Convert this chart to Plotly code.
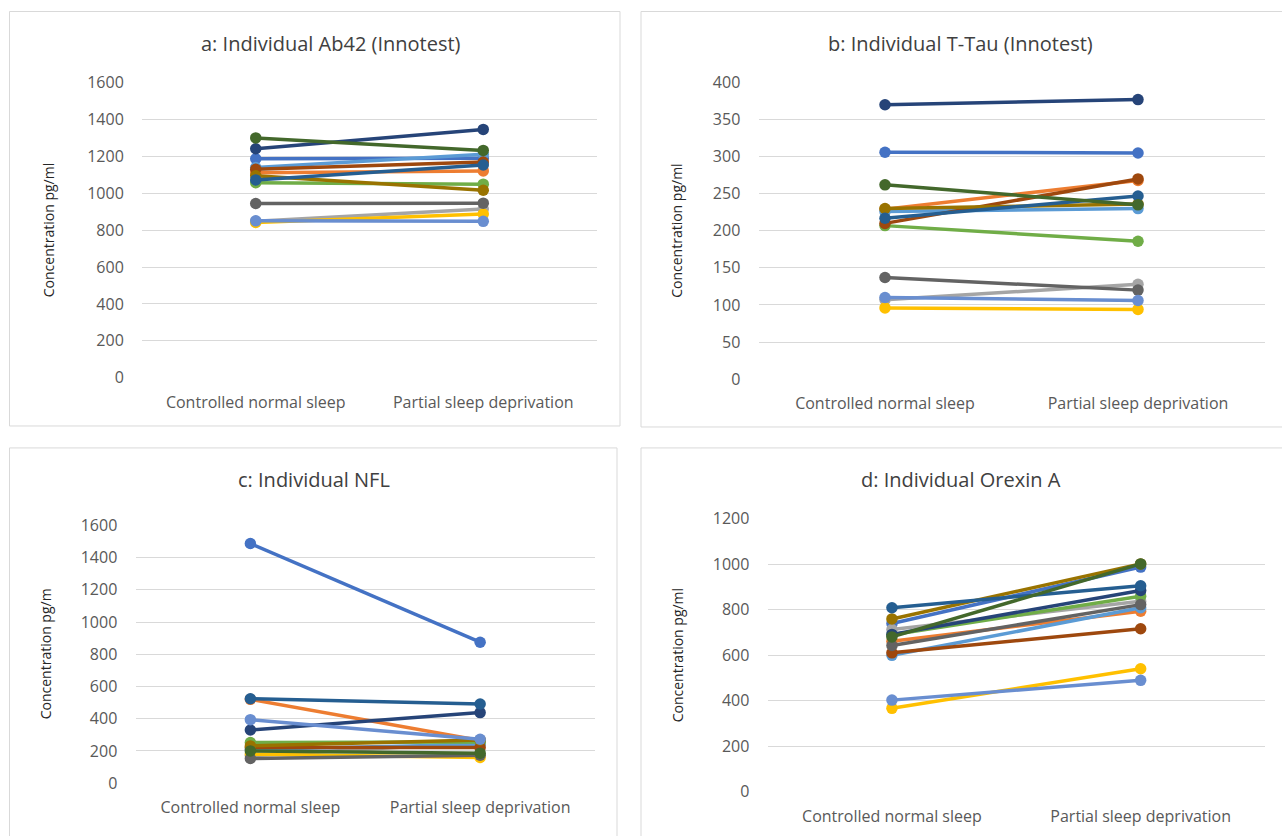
import plotly.graph_objects as go

W, H = 1282, 836
# the photographed page shows the figure in rows 10..826; map reference rows onto that band
TOP, BAND = 10.0, 816.0

conditions = ["Controlled normal sleep", "Partial sleep deprivation"]

series_colors = ["#4472C4", "#ED7D31", "#A5A5A5", "#FFC000", "#5B9BD5", "#70AD47",
                 "#264478", "#9E480E", "#636363", "#997300", "#255E91", "#43682B", "#698ED0"]

# Panel a: Ab42 (Innotest), pg/ml
ab42_normal = [1188, 1112, 848, 842, 1140, 1058, 1242, 1131, 945, 1095, 1073, 1301, 851]
ab42_psd    = [1190, 1122, 915, 888, 1212, 1050, 1347, 1170, 947, 1017, 1154, 1233, 848]

# Panel b: T-Tau (Innotest), pg/ml
ttau_normal = [306, 229, 107, 96, 226, 207, 370, 210, 137, 230, 217, 262, 110]
ttau_psd    = [305, 268, 128, 94, 230, 186, 377, 270, 120, 236, 247, 235, 106]

# Panel c: NFL
nfl_normal = [1488, 520, 170, 180, 210, 252, 330, 221, 153, 231, 524, 200, 394]
nfl_psd    = [875, 265, 250, 159, 240, 256, 438, 221, 173, 268, 491, 186, 272]

# Panel d: Orexin A, pg/ml
orexin_normal = [740, 662, 713, 367, 600, 690, 692, 611, 643, 760, 809, 681, 403]
orexin_psd    = [988, 794, 838, 541, 809, 860, 885, 717, 823, 1002, 906, 1002, 490]

panels = [
    dict(title="a: Individual Ab42 (Innotest)", ytitle="Concentration pg/ml",
         normal=ab42_normal, psd=ab42_psd, yr=[0, 1600], dt=200,
         px=(142, 597), py=(82, 377.5), title_xy=(331, 43), ytitle_x=48,
         box=(9.5, 10.5, 620, 426)),
    dict(title="b: Individual T-Tau (Innotest)", ytitle="Concentration pg/ml",
         normal=ttau_normal, psd=ttau_psd, yr=[0, 400], dt=50,
         px=(758.5, 1264.5), py=(81.7, 379), title_xy=(960, 43), ytitle_x=677,
         box=(641, 10.5, 1295, 427)),
    dict(title="c: Individual NFL", ytitle="Concentration pg/m",
         normal=nfl_normal, psd=nfl_psd, yr=[0, 1600], dt=200,
         px=(135.5, 595), py=(525.7, 784), title_xy=(314, 480), ytitle_x=45,
         box=(9.5, 448, 617, 870)),
    dict(title="d: Individual Orexin A", ytitle="Concentration pg/ml",
         normal=orexin_normal, psd=orexin_psd, yr=[0, 1200], dt=200,
         px=(767.6, 1265), py=(519.1, 792.7), title_xy=(961, 480), ytitle_x=677,
         box=(641, 448, 1295, 870)),
]


def fy(row):
    """reference pixel row -> paper fraction"""
    return 1 - (row - TOP) / BAND


FONT = "Open Sans"
fig = go.Figure()
layout = dict(width=W, height=H, margin=dict(l=0, r=0, t=0, b=0),
              paper_bgcolor="white", plot_bgcolor="white", showlegend=False,
              font=dict(family=FONT, color="#595959"))
shapes, annotations = [], []

for i, p in enumerate(panels):
    n = i + 1
    xa = "x" if n == 1 else f"x{n}"
    ya = "y" if n == 1 else f"y{n}"
    for k, c in enumerate(series_colors):
        fig.add_trace(go.Scatter(
            x=conditions, y=[p["normal"][k], p["psd"][k]],
            mode="lines+markers", xaxis=xa, yaxis=ya,
            line=dict(color=c, width=3.5),
            marker=dict(color=c, size=11.5),
            name=f"Participant {k+1}", hoverinfo="x+y"))
    xkey = "xaxis" if n == 1 else f"xaxis{n}"
    ykey = "yaxis" if n == 1 else f"yaxis{n}"
    layout[xkey] = dict(domain=[p["px"][0] / W, p["px"][1] / W], anchor=ya,
                        type="category", range=[-0.5, 1.5], showgrid=False,
                        showline=False, zeroline=False,
                        ticks="outside", ticklen=10, tickcolor="rgba(0,0,0,0)",
                        tickfont=dict(family=FONT, size=16, color="#595959"))
    layout[ykey] = dict(domain=[fy(p["py"][1]), fy(p["py"][0])], anchor=xa,
                        range=p["yr"], dtick=p["dt"], tick0=0, showgrid=True,
                        gridcolor="#D9D9D9", gridwidth=1, zeroline=False,
                        showline=False, ticks="outside", ticklen=14,
                        tickcolor="rgba(0,0,0,0)",
                        tickfont=dict(family=FONT, size=16, color="#595959"))
    x0, y0, x1, y1 = p["box"]
    shapes.append(dict(type="rect", xref="paper", yref="paper",
                       x0=x0 / W, x1=x1 / W, y0=fy(y1), y1=fy(y0),
                       line=dict(color="#D9D9D9", width=1), fillcolor="rgba(0,0,0,0)",
                       layer="below"))
    tx, ty = p["title_xy"]
    annotations.append(dict(text=p["title"], x=tx / W, y=fy(ty), xref="paper",
                            yref="paper", showarrow=False, xanchor="center",
                            yanchor="middle",
                            font=dict(family=FONT, size=20, color="#404040")))
    annotations.append(dict(text=p["ytitle"], x=p["ytitle_x"] / W,
                            y=fy((p["py"][0] + p["py"][1]) / 2),
                            xref="paper", yref="paper", showarrow=False,
                            textangle=-90, xanchor="center", yanchor="middle",
                            font=dict(family=FONT, size=14, color="#262626")))

layout["shapes"] = shapes
layout["annotations"] = annotations
fig.update_layout(**layout)

fit_page = (
    "var d=document.getElementById('{plot_id}');var b=document.body;"
    "while(b.firstChild){b.removeChild(b.firstChild);}"
    "b.appendChild(d);"
    "document.documentElement.style.cssText='margin:0;padding:0;overflow:hidden;';"
    "b.style.cssText='margin:0;padding:0;overflow:hidden;';"
    "d.style.display='block';window.scrollTo(0,0);"
)
fig.write_html("out.html", config={"displayModeBar": False}, post_script=fit_page)
